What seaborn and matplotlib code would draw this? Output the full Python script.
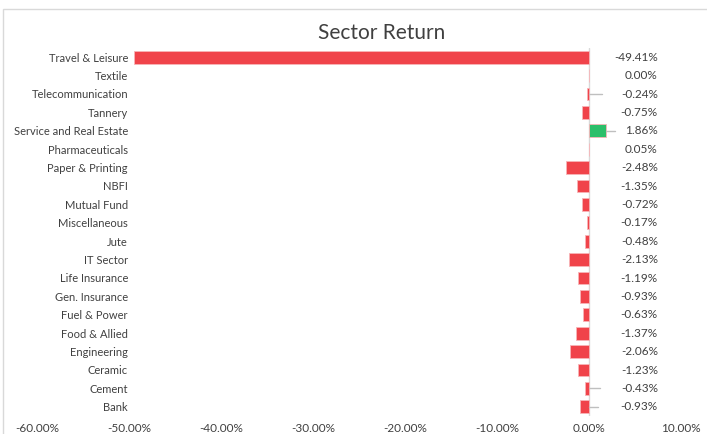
import matplotlib
matplotlib.use('Agg')
import matplotlib.pyplot as plt
import matplotlib.transforms as mtransforms
from matplotlib.patches import Rectangle
import seaborn as sns
import pandas as pd

# sector returns (%), top to bottom as in the chart
sectors = ['Travel & Leisure', 'Textile', 'Telecommunication', 'Tannery',
           'Service and Real Estate', 'Pharmaceuticals', 'Paper & Printing',
           'NBFI', 'Mutual Fund', 'Miscellaneous', 'Jute', 'IT Sector',
           'Life Insurance', 'Gen. Insurance', 'Fuel & Power', 'Food & Allied',
           'Engineering', 'Ceramic', 'Cement', 'Bank']
returns = [-49.41, 0.00, -0.24, -0.75, 1.86, 0.05, -2.48, -1.35, -0.72, -0.17,
           -0.48, -2.13, -1.19, -0.93, -0.63, -1.37, -2.06, -1.23, -0.43, -0.93]
# small plus-side error whiskers seen on a few rows
err_plus = [0, 0, 1.62, 0, 0.95, 0, 0, 0, 0, 0,
            0, 0, 0, 0, 0, 0, 0, 0, 1.63, 1.93]
xticks = [-60, -50, -40, -30, -20, -10, 0, 10]

df = pd.DataFrame({'Sector': sectors, 'Return': returns})
df['Sign'] = ['up' if r > 0 else 'down' for r in returns]

sns.set_style('white')
plt.rcParams['font.family'] = ['Lato', 'DejaVu Sans']
txt = '#404040'

fig = plt.figure(figsize=(7.07, 4.34), dpi=100)
ax = fig.add_axes([37 / 707, 1 - 416 / 434, 644 / 707, (416 - 48) / 434])

sns.barplot(data=df, x='Return', y='Sector', hue='Sign', order=sectors,
            palette={'up': '#2BBF6A', 'down': '#F0434A'}, orient='h',
            width=0.7, legend=False, ax=ax, saturation=1,
            edgecolor='#F7B5B8', linewidth=0.6)

# whiskers
for i, (v, e) in enumerate(zip(returns, err_plus)):
    if e > 0:
        start = max(v, 0)
        ax.plot([start, v + e], [i, i], color='#BFBFBF', lw=1, zorder=1)

ax.axvline(0, color='#D9D9D9', lw=1, zorder=0)

ax.set_xlim(-60, 10)
ax.set_ylim(len(sectors) - 0.5, -0.5)
ax.set_xticks(xticks)
ax.set_xticklabels([f'{t:.2f}%' for t in xticks], color=txt, fontsize=8.5)
ax.tick_params(axis='x', length=0, pad=5)
ax.tick_params(axis='y', length=0, pad=-65.5)
ax.set_yticks(range(len(sectors)))
ax.set_yticklabels(sectors, color=txt, fontsize=8)
ax.set_xlabel('')
ax.set_ylabel('')
for s in ax.spines.values():
    s.set_visible(False)

trans = mtransforms.blended_transform_factory(ax.transAxes, ax.transData)
for i, v in enumerate(returns):
    ax.text(0.964, i, f'{v:.2f}%', transform=trans, ha='right', va='center',
            color=txt, fontsize=8.5)

fig.text(382 / 707, 1 - 33 / 434, 'Sector Return', ha='center', va='center',
         fontsize=15, color='#404040')

fig.patches.append(Rectangle((3 / 707, -0.05), 1.0, 1 - 9 / 434 + 0.05,
                             transform=fig.transFigure, fill=False,
                             edgecolor='#D9D9D9', lw=1))

fig.savefig('out.png', dpi=100)
